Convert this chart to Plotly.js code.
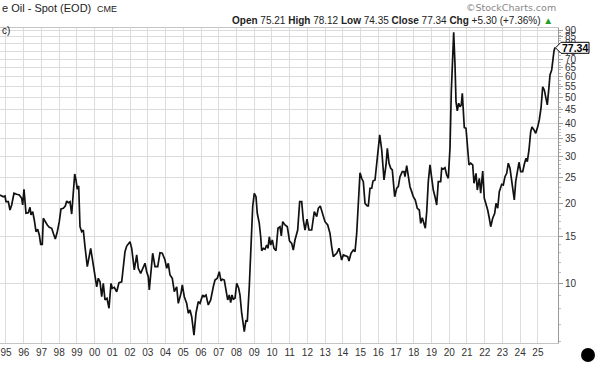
<!DOCTYPE html>
<html>
<head>
<meta charset="utf-8">
<script src="https://cdn.plot.ly/plotly-3.0.1.min.js"></script>
<style>
html,body{margin:0;padding:0;background:#fff;}
#chart{width:600px;height:368px;}
</style>
</head>
<body>
<div id="chart"></div>
<script>
// decimal-year dates of each sample
const dates = [
1994.662,1994.848,1994.944,1995.000,1995.130,1995.226,1995.321,1995.451,1995.603,1995.750,1995.885,1995.942,
1996.015,1996.128,1996.258,1996.354,1996.410,1996.506,1996.596,1996.692,1996.788,1996.878,1996.957,
1997.047,1997.104,1997.200,1997.329,1997.442,1997.578,1997.668,1997.781,1997.893,
1998.006,1998.102,1998.232,1998.345,1998.424,1998.514,1998.610,1998.706,1998.796,1998.875,1998.948,
1999.021,1999.100,1999.174,1999.270,1999.360,1999.456,1999.585,1999.777,1999.924,
2000.116,2000.206,2000.302,2000.398,2000.488,2000.584,2000.697,2000.810,2000.922,2000.996,
2001.108,2001.244,2001.374,2001.526,2001.639,2001.712,2001.808,2001.898,2001.994,
2002.090,2002.180,2002.236,2002.372,2002.462,2002.597,2002.744,2002.840,2002.936,
2003.026,2003.082,2003.178,2003.274,2003.404,2003.556,2003.686,2003.816,2003.968,
2004.064,2004.154,2004.250,2004.380,2004.492,2004.628,2004.718,2004.870,2004.944,
2005.056,2005.192,2005.282,2005.378,2005.474,2005.603,2005.716,2005.846,2005.942,
2006.094,2006.168,2006.281,2006.410,2006.545,2006.692,2006.788,2006.918,
2007.030,2007.126,2007.200,2007.312,2007.408,2007.504,2007.594,2007.673,2007.746,2007.820,2007.916,
2008.012,2008.125,2008.198,2008.294,2008.350,2008.440,2008.536,2008.609,2008.722,2008.818,2008.914,
2009.004,2009.100,2009.173,2009.286,2009.365,2009.421,2009.512,2009.608,2009.704,2009.777,2009.851,2009.930,
2010.020,2010.116,2010.229,2010.341,2010.454,2010.528,2010.607,2010.737,2010.866,2010.990,
2011.114,2011.204,2011.300,2011.452,2011.565,2011.678,2011.768,2011.864,2011.977,
2012.090,2012.242,2012.389,2012.524,2012.614,2012.727,2012.840,2012.992,
2013.144,2013.274,2013.370,2013.460,2013.556,2013.652,2013.782,2013.838,2013.934,
2014.024,2014.160,2014.273,2014.346,2014.459,2014.589,2014.685,2014.781,2014.871,2014.967,
2015.062,2015.153,2015.249,2015.379,2015.435,2015.531,2015.627,2015.700,2015.813,2015.909,
2016.000,2016.079,2016.192,2016.321,2016.434,2016.508,2016.604,2016.700,2016.788,2016.844,2016.923,
2017.036,2017.126,2017.222,2017.352,2017.448,2017.504,2017.600,2017.713,2017.786,2017.882,2017.972,
2018.085,2018.198,2018.311,2018.390,2018.480,2018.576,2018.650,2018.729,2018.819,2018.914,
2019.010,2019.100,2019.196,2019.292,2019.382,2019.517,2019.574,2019.664,2019.760,2019.856,2019.946,
2020.042,2020.116,2020.195,2020.251,2020.325,2020.381,2020.454,2020.533,2020.607,2020.680,2020.737,2020.793,2020.849,2020.945,
2021.041,2021.114,2021.210,2021.323,2021.396,2021.509,2021.583,2021.695,2021.774,2021.887,2021.977,
2022.073,2022.169,2022.259,2022.338,2022.451,2022.564,2022.637,2022.733,2022.823,2022.959,
2023.049,2023.144,2023.240,2023.331,2023.427,2023.523,2023.613,2023.669,2023.748,2023.838,2023.934,
2024.030,2024.143,2024.233,2024.329,2024.402,2024.498,2024.594,2024.667,2024.780,2024.876,2024.989,
2025.079,2025.175,2025.271,2025.361,2025.440,2025.530,2025.626,2025.683,2025.779,2025.835,2025.909,2025.965
];
// closing price of each sample
const closes = [
21.49,21.17,21.30,20.27,20.27,18.86,19.70,21.81,21.62,21.49,20.88,19.70,
22.58,18.33,18.42,19.31,18.06,18.58,17.29,15.62,15.95,15.18,14.00,
14.00,17.55,17.04,16.56,16.23,16.09,15.40,14.66,15.62,
17.04,19.03,19.14,19.53,20.39,20.10,20.27,18.21,23.09,25.78,24.48,
22.58,23.24,16.31,15.62,15.85,13.71,11.52,13.52,11.87,
9.68,10.42,10.11,8.88,9.97,8.63,8.76,8.03,9.97,9.55,
9.63,9.27,10.03,10.11,11.52,13.13,13.79,14.12,14.32,
13.52,12.03,11.20,12.76,11.36,10.88,11.52,11.87,11.03,
10.56,9.41,11.52,12.95,11.52,11.52,13.01,12.95,12.21,
11.36,11.87,10.72,10.42,9.27,9.68,8.38,9.14,9.83,
8.88,8.38,7.69,7.91,7.46,6.36,7.69,8.50,8.38,
9.01,8.88,9.01,8.26,8.63,9.68,10.26,10.42,
11.03,10.18,10.33,10.26,9.41,8.63,9.01,8.43,9.01,8.68,8.76,
9.97,9.55,9.01,7.69,7.25,6.55,7.25,7.14,9.68,13.71,19.41,
21.81,21.17,18.33,16.80,14.95,13.24,13.52,13.40,13.91,13.52,14.95,13.91,
14.53,13.52,13.24,16.09,16.31,15.05,17.04,16.56,16.31,14.41,
14.12,13.32,14.53,15.85,20.27,20.27,17.29,15.85,17.40,
15.85,15.85,18.58,17.79,19.14,19.53,18.33,17.04,
16.56,15.40,13.71,12.57,12.76,12.95,13.52,13.13,12.21,
12.76,12.65,12.57,12.11,12.95,13.32,13.13,15.40,20.57,26.08,
24.84,24.12,19.99,19.53,19.53,22.78,22.78,24.27,24.48,28.31,
33.19,36.20,31.77,24.48,27.89,32.24,28.31,27.09,26.70,23.44,21.17,
22.78,23.09,25.19,26.31,26.31,25.19,27.73,24.84,23.09,22.12,21.17,
20.57,19.14,18.86,16.80,17.64,16.80,16.09,18.58,24.12,27.89,
24.84,22.44,21.17,19.70,24.12,24.12,27.09,26.93,27.23,25.56,24.84,
32.24,52.75,74.67,88.39,66.52,48.36,44.60,47.68,46.29,46.99,52.01,45.66,38.57,38.37,
33.19,27.89,28.31,27.89,23.79,25.94,22.44,24.84,21.81,26.47,20.88,
19.99,18.86,17.55,16.31,17.55,18.33,19.99,19.14,22.12,23.58,
23.44,25.19,25.94,28.31,27.09,24.48,22.78,20.57,24.12,26.31,28.55,
26.31,26.31,28.06,29.56,28.71,31.77,37.25,38.84,37.80,36.73,38.84,
41.24,45.66,54.99,53.53,49.80,46.99,54.99,60.98,63.69,69.47,75.12,77.34
];
const yearTicks = [1995,1996,1997,1998,1999,2000,2001,2002,2003,2004,2005,2006,2007,2008,2009,2010,
  2011,2012,2013,2014,2015,2016,2017,2018,2019,2020,2021,2022,2023,2024,2025];
const yearLabels = ['95','96','97','98','99','00','01','02','03','04','05','06','07','08','09','10',
  '11','12','13','14','15','16','17','18','19','20','21','22','23','24','25'];
const priceTicks = [10,15,20,25,30,35,40,45,50,55,60,65,70,75,80,85,90];
const priceLabels = priceTicks.map(String);
const lastClose = 77.34;
const headerText = '<b>Open</b> 75.21 <b>High</b> 78.12 <b>Low</b> 74.35 <b>Close</b> 77.34 <b>Chg</b> +5.30 (+7.36%) <span style="color:#2a9d2a">▲</span>';

// plot-area geometry helpers (pixel -> paper)
const PL = 0, PR = 558, PT = 28, PB = 343;
const px = x => (x - PL) / (PR - PL);
const py = y => (PB - y) / (PB - PT);

const trace = {
  x: dates, y: closes, type: 'scatter', mode: 'lines',
  line: {color: '#111', width: 1.7}, hoverinfo: 'skip'
};

const F = 'Liberation Sans, Arial, sans-serif';
const layout = {
  width: 600, height: 368,
  margin: {l: PL, r: 600 - PR, t: PT, b: 368 - PB, pad: 0},
  paper_bgcolor: '#fff', plot_bgcolor: '#fff',
  showlegend: false,
  font: {family: F, size: 10, color: '#333'},
  xaxis: {
    range: [1994.662, 2026.134], tickmode: 'array', tickvals: yearTicks, ticktext: yearLabels,
    showgrid: true, gridcolor: '#dcdcdc', gridwidth: 1, zeroline: false,
    showline: true, linecolor: '#c4c4c4', linewidth: 1, mirror: true,
    ticks: '', tickfont: {family: F, size: 10, color: '#333'}
  },
  yaxis: {
    type: 'log', side: 'right', range: [0.7736, 1.9623],
    tickmode: 'array', tickvals: priceTicks, ticktext: priceLabels,
    showgrid: true, gridcolor: '#dcdcdc', gridwidth: 1, zeroline: false,
    showline: true, linecolor: '#999', linewidth: 1,
    ticks: 'outside', ticklen: 4, tickcolor: '#999',
    minor: {ticks: 'outside', ticklen: 2, tickcolor: '#bbb', showgrid: false,
      tickvals: [6,7,8,9,11,12,13,14,16,17,18,19,21,22,23,24,26,27,28,29,31,32,33,34,36,37,38,39,42,44,46,48,52,54,56,58,62,64,66,68,72,74,76,78,82,84,86,88]},
    tickfont: {family: F, size: 10, color: '#333'}
  },
  annotations: [
    {xref: 'paper', yref: 'paper', x: px(0), y: py(8), xanchor: 'left', yanchor: 'middle',
     text: 'e Oil - Spot (EOD)', showarrow: false, font: {family: F, size: 11, color: '#222'}},
    {xref: 'paper', yref: 'paper', x: px(95), y: py(8.5), xanchor: 'left', yanchor: 'middle',
     text: 'CME', showarrow: false, font: {family: F, size: 9, color: '#222'}},
    {xref: 'paper', yref: 'paper', x: px(558), y: py(7), xanchor: 'right', yanchor: 'middle',
     text: '©StockCharts.com', showarrow: false, font: {family: 'DejaVu Sans, sans-serif', size: 9.5, color: '#888'}},
    {xref: 'paper', yref: 'paper', x: px(555), y: py(20), xanchor: 'right', yanchor: 'middle',
     text: headerText, showarrow: false, font: {family: F, size: 10, color: '#222'}},
    {xref: 'paper', yref: 'paper', x: px(0), y: py(31), xanchor: 'left', yanchor: 'middle',
     text: 'c)', showarrow: false, font: {family: F, size: 10, color: '#222'}},
    {xref: 'paper', yref: 'y', x: px(575), y: Math.log10(lastClose), xanchor: 'center', yanchor: 'middle',
     text: '<b>' + lastClose.toFixed(2) + '</b>', showarrow: false, font: {family: F, size: 10.5, color: '#000'}}
  ],
  shapes: [
    {type: 'path', xref: 'paper', yref: 'paper',
     path: 'M ' + px(555.5) + ',' + py(47.8) + ' L ' + px(561) + ',' + py(42.3) + ' L ' + px(589) + ',' + py(42.3) +
           ' L ' + px(589) + ',' + py(53.3) + ' L ' + px(561) + ',' + py(53.3) + ' Z',
     line: {color: '#000', width: 1}, fillcolor: '#fff', layer: 'above'},
    {type: 'circle', xref: 'paper', yref: 'paper', x0: px(581), x1: px(595), y0: py(362), y1: py(348),
     fillcolor: '#000', line: {color: '#000', width: 0}}
  ]
};

Plotly.newPlot('chart', [trace], layout, {staticPlot: true, displayModeBar: false});
</script>
</body>
</html>
